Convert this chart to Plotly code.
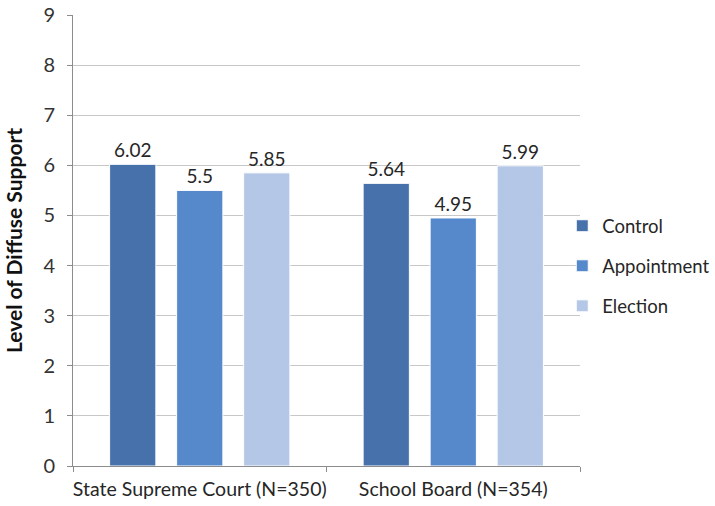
import plotly.graph_objects as go

categories = ["State Supreme Court (N=350)", "School Board (N=354)"]
series_names = ["Control", "Appointment", "Election"]
control = [6.02, 5.64]
appointment = [5.5, 4.95]
election = [5.85, 5.99]
colors = ["#4671AA", "#5589CC", "#B4C7E6"]
y_ticks = list(range(0, 10))

fig = go.Figure()
for name, vals, col in zip(series_names, [control, appointment, election], colors):
    fig.add_trace(go.Bar(
        x=categories, y=vals, name=name, legendgroup=name,
        marker=dict(color=col, line=dict(color="#FFFFFF", width=1)),
        text=[str(v) for v in vals], textposition="outside",
        textfont=dict(size=19, color="#262626"), cliponaxis=False,
    ))

fig.update_layout(
    width=715, height=506,
    margin=dict(l=73, r=135, t=15, b=40, autoexpand=False),
    paper_bgcolor="white", plot_bgcolor="white",
    font=dict(family="Lato, Open Sans, sans-serif", color="#333333"),
    barmode="group", bargap=0.207, bargroupgap=0.31,
    legend=dict(x=0.965, y=0.443, xanchor="left", yanchor="middle",
                font=dict(size=18.5, color="#262626"), tracegroupgap=13,
                itemwidth=30, traceorder="grouped", bgcolor="rgba(0,0,0,0)"),
    showlegend=True,
)
fig.update_yaxes(
    range=[0, 9], tickvals=y_ticks, showgrid=True, gridcolor="#C8C8C8", gridwidth=1,
    showline=True, linecolor="#8C8C8C", ticks="outside", ticklen=5, tickcolor="#8C8C8C",
    tickfont=dict(size=20, color="#333333"), zeroline=False, automargin=False,
    ticklabelstandoff=8,
    title=dict(text="<b>Level of Diffuse Support</b>", font=dict(size=21, color="#111111")),
)
fig.update_xaxes(
    showline=True, linecolor="#8C8C8C", ticks="outside", ticklen=5, tickcolor="#8C8C8C",
    tickson="boundaries", tickfont=dict(size=19.5, color="#262626"), automargin=False,
    ticklabelstandoff=6, tickangle=0,
)
fig.write_html("out.html")
